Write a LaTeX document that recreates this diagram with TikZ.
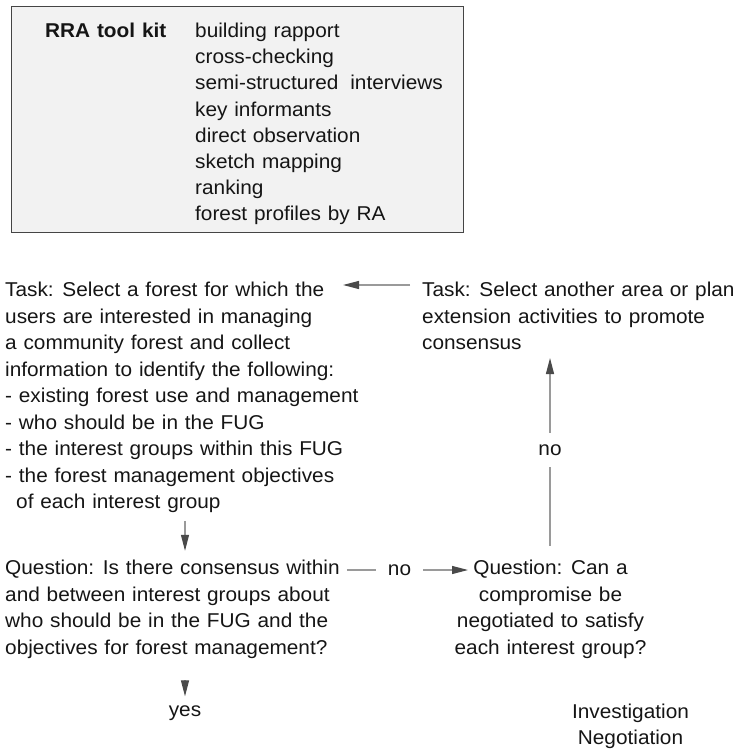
\documentclass[tikz,border=0pt]{standalone}
\usepackage{fontspec}
\setmainfont[FakeStretch=1.04,WordSpace=1.18]{Liberation Sans}
\usetikzlibrary{arrows.meta}
\definecolor{boxfill}{HTML}{F2F2F2}
\definecolor{boxline}{HTML}{454545}
\definecolor{conn}{HTML}{9A9A9A}
\definecolor{tipcol}{HTML}{4A4A4A}
\definecolor{ink}{HTML}{151515}
\begin{document}
\begin{tikzpicture}[x=1pt,y=-1pt,
  txt/.style={inner sep=0pt, align=left, text=ink, font=\fontsize{20}{26.5}\selectfont},
  kittxt/.style={inner sep=0pt, align=left, text=ink, font=\fontsize{20}{26.2}\selectfont},
  kitframe/.style={draw=boxline, fill=boxfill, line width=1pt, inner sep=0pt},
  conline/.style={draw=conn, line width=1.2pt},
  arr/.style={conline, -{Triangle[length=16pt,width=8pt,color=tipcol]}},
  lab/.style={inner sep=0pt, text=ink, font=\fontsize{20}{26}\selectfont}]
\useasboundingbox (0,0) rectangle (741,749);

% RRA tool kit box (multi-line nodes are placed by the baseline of their last line)
\node[kitframe, anchor=north west, minimum width=452pt, minimum height=226pt] (kit) at (11,6) {};
\node[kittxt, font=\bfseries\fontsize{20}{26.2}\selectfont, anchor=base west] (kittitle) at (45,37.5) {RRA tool kit};
\node[kittxt, anchor=base west] (kitlist) at (195,220.9) {building rapport\\cross-checking\\semi-structured\hspace{5pt} interviews\\key informants\\direct observation\\sketch mapping\\ranking\\forest profiles by RA};

% left task
\node[txt, anchor=base west] (ltask) at (5,508.5) {Task: Select a forest for which the\\users are interested in managing\\a community forest and collect\\information to identify the following:\\- existing forest use and management\\- who should be in the FUG\\- the interest groups within this FUG\\- the forest management objectives\\\hspace*{11pt}of each interest group};

% right task
\node[txt, anchor=base west] (rtask) at (422,349.5) {Task: Select another area or plan\\extension activities to promote\\consensus};

% questions
\node[txt, anchor=base west] (lq) at (5,654) {Question: Is there consensus within\\and between interest groups about\\who should be in the FUG and the\\objectives for forest management?};
\node[txt, align=center, anchor=base] (rq) at (550.5,654) {Question: Can a\\compromise be\\negotiated to satisfy\\each interest group?};

% labels
\node[lab, inner xsep=12pt] (no1) at (399.5,570) {no};
\node[lab, minimum height=34pt] (no2) at (550,450) {no};
\node[lab] (yes) at (185,713) {yes};
\node[lab, align=center, anchor=base] (invneg) at (630.5,744) {Investigation\\Negotiation};

% free ends
\coordinate (t1tip) at (343,285);
\coordinate (t2tip) at (550,358);
\coordinate (q2tip) at (468,570);

% connectors
\draw[arr, shorten <=12pt] (rtask.west |- t1tip) -- (t1tip);
\draw[arr, shorten <=8pt, shorten >=9pt] (yes.north |- ltask.south) -- (yes.north |- lq.north);
\draw[arr, shorten <=22pt, shorten >=9pt] (yes.north |- lq.south) -- (yes.north);
\draw[conline] ([xshift=7pt]lq.east |- no1.west) -- (no1.west);
\draw[arr] (no1.east) -- (no1.east -| q2tip);
\draw[conline, shorten <=14pt] (no2.south |- rq.north) -- (no2.south);
\draw[arr] (no2.north) -- (no2.north |- t2tip);
\end{tikzpicture}
\end{document}
